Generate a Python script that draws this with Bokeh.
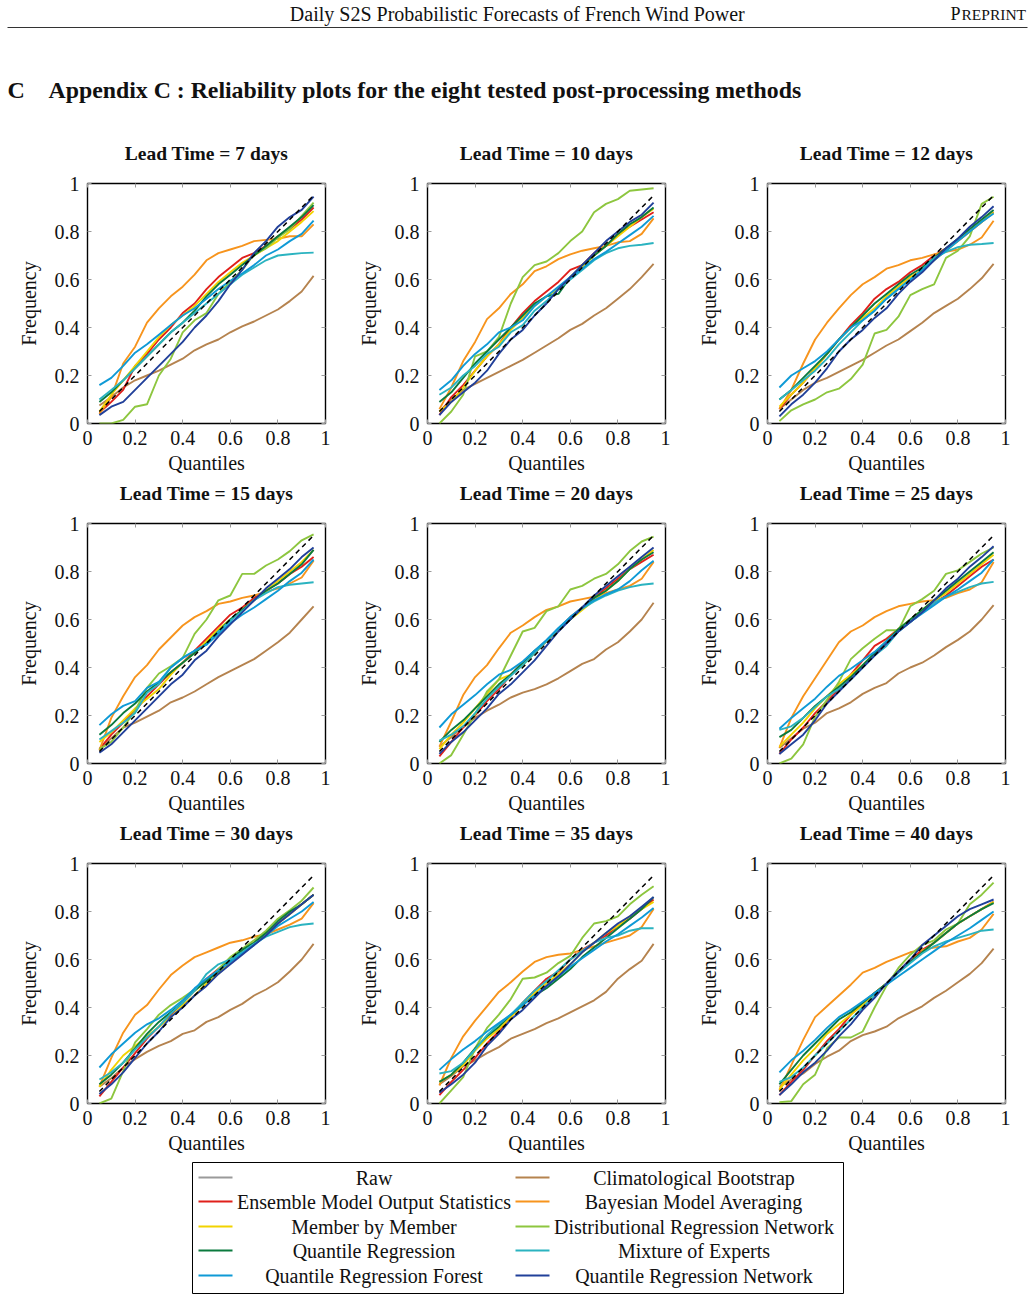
from bokeh.plotting import figure
from bokeh.layouts import column, row
from bokeh.models import (Range1d, LinearAxis, FixedTicker, ColumnDataSource, Label,
                          CustomLabelingPolicy)
from bokeh.embed import file_html
from bokeh.resources import INLINE

SERIF = "Liberation Serif"

QUANTILES = [0.05, 0.10, 0.15, 0.20, 0.25, 0.30, 0.35, 0.40, 0.45, 0.50,
             0.55, 0.60, 0.65, 0.70, 0.75, 0.80, 0.85, 0.90, 0.95]
LEAD_TIMES = [7, 10, 12, 15, 20, 25, 30, 35, 40]
TICKS = [0, 0.2, 0.4, 0.6, 0.8, 1]
TICK_LABELS = ["0", "0.2", "0.4", "0.6", "0.8", "1"]

# observed frequency below each forecast quantile, per method and lead time (days)
CB = {
    7: [0.075, 0.11, 0.15, 0.18, 0.20, 0.22, 0.245, 0.27, 0.305, 0.33, 0.35, 0.38, 0.405, 0.425, 0.45, 0.475, 0.51, 0.55, 0.615],
    10: [0.05, 0.10, 0.14, 0.165, 0.19, 0.215, 0.24, 0.265, 0.295, 0.325, 0.355, 0.39, 0.415, 0.45, 0.48, 0.52, 0.56, 0.61, 0.665],
    12: [0.06, 0.10, 0.14, 0.17, 0.19, 0.215, 0.24, 0.265, 0.295, 0.325, 0.35, 0.385, 0.42, 0.46, 0.49, 0.52, 0.56, 0.605, 0.665],
    15: [0.06, 0.105, 0.15, 0.17, 0.195, 0.22, 0.255, 0.275, 0.30, 0.33, 0.36, 0.385, 0.41, 0.435, 0.47, 0.505, 0.545, 0.60, 0.655],
    20: [0.07, 0.11, 0.155, 0.19, 0.22, 0.245, 0.275, 0.295, 0.31, 0.33, 0.355, 0.385, 0.415, 0.435, 0.475, 0.505, 0.55, 0.60, 0.67],
    25: [0.065, 0.105, 0.145, 0.17, 0.21, 0.23, 0.255, 0.29, 0.315, 0.335, 0.375, 0.40, 0.42, 0.45, 0.485, 0.515, 0.55, 0.60, 0.66],
    30: [0.07, 0.105, 0.15, 0.185, 0.215, 0.24, 0.26, 0.29, 0.305, 0.34, 0.36, 0.39, 0.415, 0.45, 0.475, 0.505, 0.55, 0.60, 0.665],
    35: [0.08, 0.115, 0.155, 0.18, 0.21, 0.235, 0.27, 0.29, 0.31, 0.335, 0.355, 0.38, 0.405, 0.43, 0.465, 0.52, 0.56, 0.595, 0.665],
    40: [0.07, 0.10, 0.125, 0.165, 0.195, 0.22, 0.26, 0.285, 0.30, 0.32, 0.355, 0.38, 0.405, 0.44, 0.47, 0.505, 0.54, 0.585, 0.645],
}
EMOS = {
    7: [0.045, 0.09, 0.14, 0.24, 0.29, 0.35, 0.40, 0.46, 0.50, 0.56, 0.61, 0.65, 0.69, 0.71, 0.74, 0.78, 0.81, 0.85, 0.90],
    10: [0.035, 0.11, 0.16, 0.22, 0.28, 0.33, 0.40, 0.46, 0.51, 0.55, 0.59, 0.64, 0.66, 0.71, 0.74, 0.79, 0.82, 0.85, 0.88],
    12: [0.06, 0.12, 0.17, 0.23, 0.29, 0.35, 0.41, 0.46, 0.52, 0.56, 0.59, 0.63, 0.66, 0.70, 0.73, 0.76, 0.80, 0.84, 0.88],
    15: [0.06, 0.12, 0.17, 0.22, 0.28, 0.33, 0.38, 0.42, 0.47, 0.52, 0.57, 0.62, 0.65, 0.69, 0.72, 0.75, 0.79, 0.82, 0.86],
    20: [0.03, 0.09, 0.15, 0.20, 0.26, 0.31, 0.37, 0.42, 0.46, 0.51, 0.56, 0.61, 0.65, 0.69, 0.73, 0.77, 0.81, 0.84, 0.87],
    25: [0.04, 0.10, 0.15, 0.21, 0.26, 0.31, 0.37, 0.43, 0.49, 0.52, 0.56, 0.59, 0.63, 0.67, 0.70, 0.74, 0.78, 0.82, 0.85],
    30: [0.03, 0.09, 0.15, 0.21, 0.27, 0.32, 0.37, 0.42, 0.47, 0.52, 0.56, 0.60, 0.64, 0.67, 0.71, 0.75, 0.79, 0.83, 0.87],
    35: [0.035, 0.09, 0.14, 0.19, 0.25, 0.30, 0.36, 0.42, 0.47, 0.52, 0.55, 0.60, 0.64, 0.67, 0.70, 0.74, 0.77, 0.81, 0.85],
    40: [0.035, 0.09, 0.14, 0.20, 0.26, 0.31, 0.37, 0.42, 0.46, 0.50, 0.55, 0.60, 0.64, 0.67, 0.71, 0.75, 0.78, 0.81, 0.84],
}
BMA = {
    7: [0.04, 0.11, 0.25, 0.32, 0.42, 0.48, 0.53, 0.57, 0.62, 0.68, 0.71, 0.725, 0.74, 0.76, 0.765, 0.77, 0.78, 0.78, 0.83],
    10: [0.06, 0.15, 0.26, 0.34, 0.435, 0.48, 0.54, 0.58, 0.635, 0.655, 0.685, 0.705, 0.72, 0.73, 0.74, 0.755, 0.76, 0.79, 0.855],
    12: [0.06, 0.14, 0.25, 0.35, 0.42, 0.48, 0.535, 0.58, 0.61, 0.645, 0.66, 0.68, 0.69, 0.705, 0.715, 0.725, 0.745, 0.775, 0.845],
    15: [0.055, 0.19, 0.28, 0.36, 0.41, 0.475, 0.525, 0.575, 0.61, 0.635, 0.665, 0.675, 0.69, 0.70, 0.715, 0.73, 0.75, 0.775, 0.845],
    20: [0.07, 0.175, 0.285, 0.36, 0.41, 0.48, 0.545, 0.575, 0.61, 0.64, 0.655, 0.675, 0.685, 0.695, 0.71, 0.725, 0.74, 0.77, 0.84],
    25: [0.065, 0.19, 0.28, 0.355, 0.43, 0.505, 0.55, 0.575, 0.61, 0.635, 0.655, 0.665, 0.675, 0.68, 0.69, 0.71, 0.725, 0.755, 0.84],
    30: [0.07, 0.19, 0.295, 0.37, 0.41, 0.475, 0.535, 0.575, 0.61, 0.63, 0.65, 0.67, 0.68, 0.695, 0.705, 0.725, 0.745, 0.77, 0.835],
    35: [0.075, 0.19, 0.28, 0.345, 0.405, 0.465, 0.505, 0.55, 0.59, 0.61, 0.62, 0.625, 0.64, 0.655, 0.67, 0.685, 0.70, 0.735, 0.81],
    40: [0.055, 0.16, 0.265, 0.36, 0.405, 0.45, 0.495, 0.545, 0.565, 0.59, 0.61, 0.63, 0.64, 0.65, 0.655, 0.675, 0.69, 0.725, 0.79],
}
MBM = {
    7: [0.05, 0.12, 0.18, 0.24, 0.30, 0.36, 0.41, 0.45, 0.49, 0.54, 0.59, 0.63, 0.67, 0.70, 0.73, 0.76, 0.80, 0.84, 0.885],
    10: [0.05, 0.09, 0.15, 0.22, 0.28, 0.33, 0.39, 0.44, 0.49, 0.53, 0.56, 0.61, 0.65, 0.70, 0.74, 0.78, 0.82, 0.86, 0.895],
    12: [0.07, 0.12, 0.17, 0.23, 0.29, 0.35, 0.40, 0.44, 0.48, 0.53, 0.57, 0.61, 0.64, 0.68, 0.72, 0.76, 0.80, 0.84, 0.88],
    15: [0.09, 0.13, 0.18, 0.23, 0.27, 0.31, 0.37, 0.42, 0.46, 0.51, 0.56, 0.60, 0.64, 0.68, 0.72, 0.76, 0.80, 0.84, 0.89],
    20: [0.06, 0.12, 0.17, 0.23, 0.29, 0.35, 0.37, 0.41, 0.46, 0.51, 0.56, 0.60, 0.64, 0.68, 0.72, 0.76, 0.81, 0.85, 0.89],
    25: [0.07, 0.12, 0.17, 0.23, 0.28, 0.33, 0.37, 0.41, 0.46, 0.51, 0.56, 0.60, 0.64, 0.68, 0.71, 0.75, 0.79, 0.83, 0.87],
    30: [0.07, 0.14, 0.20, 0.24, 0.28, 0.32, 0.36, 0.41, 0.45, 0.50, 0.54, 0.59, 0.63, 0.67, 0.71, 0.75, 0.79, 0.83, 0.87],
    35: [0.09, 0.12, 0.16, 0.22, 0.27, 0.31, 0.36, 0.41, 0.46, 0.50, 0.54, 0.58, 0.63, 0.67, 0.71, 0.74, 0.78, 0.81, 0.84],
    40: [0.06, 0.12, 0.18, 0.23, 0.29, 0.33, 0.37, 0.41, 0.46, 0.50, 0.55, 0.59, 0.63, 0.67, 0.71, 0.75, 0.78, 0.81, 0.84],
}
DRN = {
    7: [0.0, 0.0, 0.015, 0.07, 0.08, 0.20, 0.27, 0.38, 0.43, 0.46, 0.54, 0.59, 0.64, 0.705, 0.73, 0.775, 0.81, 0.865, 0.92],
    10: [0.0, 0.05, 0.12, 0.28, 0.30, 0.36, 0.50, 0.61, 0.66, 0.675, 0.71, 0.76, 0.80, 0.88, 0.915, 0.935, 0.97, 0.975, 0.98],
    12: [0.01, 0.055, 0.08, 0.10, 0.13, 0.145, 0.185, 0.245, 0.375, 0.39, 0.445, 0.535, 0.56, 0.58, 0.69, 0.72, 0.78, 0.915, 0.945],
    15: [0.06, 0.09, 0.15, 0.22, 0.315, 0.375, 0.405, 0.44, 0.54, 0.60, 0.68, 0.70, 0.79, 0.79, 0.825, 0.85, 0.885, 0.93, 0.955],
    20: [0.0, 0.035, 0.12, 0.205, 0.30, 0.35, 0.45, 0.55, 0.565, 0.635, 0.655, 0.725, 0.74, 0.77, 0.79, 0.83, 0.885, 0.925, 0.945],
    25: [0.0, 0.02, 0.08, 0.195, 0.265, 0.34, 0.435, 0.48, 0.52, 0.555, 0.555, 0.655, 0.685, 0.72, 0.79, 0.805, 0.84, 0.875, 0.90],
    30: [0.0, 0.02, 0.135, 0.255, 0.31, 0.37, 0.41, 0.44, 0.475, 0.51, 0.56, 0.61, 0.645, 0.68, 0.72, 0.77, 0.805, 0.845, 0.90],
    35: [0.0, 0.055, 0.11, 0.23, 0.315, 0.37, 0.435, 0.52, 0.525, 0.545, 0.585, 0.615, 0.69, 0.75, 0.76, 0.78, 0.83, 0.87, 0.905],
    40: [0.005, 0.01, 0.08, 0.12, 0.23, 0.275, 0.275, 0.30, 0.40, 0.49, 0.565, 0.62, 0.66, 0.68, 0.725, 0.75, 0.83, 0.87, 0.92],
}
QR = {
    7: [0.09, 0.13, 0.18, 0.23, 0.28, 0.33, 0.38, 0.42, 0.47, 0.53, 0.58, 0.62, 0.66, 0.70, 0.74, 0.78, 0.82, 0.86, 0.91],
    10: [0.09, 0.13, 0.19, 0.25, 0.30, 0.35, 0.40, 0.45, 0.50, 0.53, 0.54, 0.61, 0.66, 0.70, 0.74, 0.79, 0.83, 0.86, 0.90],
    12: [0.10, 0.14, 0.19, 0.24, 0.29, 0.35, 0.40, 0.45, 0.50, 0.54, 0.58, 0.62, 0.65, 0.69, 0.73, 0.77, 0.81, 0.85, 0.89],
    15: [0.12, 0.16, 0.21, 0.25, 0.30, 0.34, 0.38, 0.42, 0.46, 0.50, 0.55, 0.60, 0.64, 0.68, 0.72, 0.75, 0.79, 0.83, 0.89],
    20: [0.09, 0.14, 0.18, 0.23, 0.28, 0.33, 0.37, 0.42, 0.47, 0.51, 0.56, 0.60, 0.65, 0.69, 0.72, 0.76, 0.81, 0.85, 0.88],
    25: [0.11, 0.14, 0.19, 0.24, 0.28, 0.32, 0.36, 0.41, 0.46, 0.51, 0.56, 0.60, 0.64, 0.68, 0.72, 0.76, 0.80, 0.84, 0.88],
    30: [0.08, 0.12, 0.17, 0.23, 0.29, 0.34, 0.38, 0.42, 0.47, 0.51, 0.55, 0.60, 0.64, 0.67, 0.71, 0.76, 0.80, 0.83, 0.87],
    35: [0.09, 0.12, 0.17, 0.23, 0.28, 0.32, 0.37, 0.41, 0.45, 0.48, 0.52, 0.56, 0.61, 0.65, 0.69, 0.73, 0.77, 0.81, 0.86],
    40: [0.08, 0.14, 0.20, 0.25, 0.30, 0.35, 0.38, 0.42, 0.46, 0.50, 0.55, 0.59, 0.63, 0.67, 0.71, 0.75, 0.78, 0.81, 0.835],
}
MOE = {
    7: [0.10, 0.14, 0.18, 0.23, 0.28, 0.33, 0.38, 0.42, 0.46, 0.50, 0.54, 0.58, 0.62, 0.65, 0.68, 0.70, 0.705, 0.71, 0.712],
    10: [0.12, 0.15, 0.20, 0.24, 0.29, 0.32, 0.38, 0.41, 0.47, 0.51, 0.56, 0.60, 0.64, 0.68, 0.71, 0.73, 0.74, 0.745, 0.752],
    12: [0.10, 0.14, 0.18, 0.22, 0.27, 0.33, 0.38, 0.43, 0.47, 0.52, 0.56, 0.60, 0.64, 0.69, 0.715, 0.735, 0.745, 0.748, 0.752],
    15: [0.10, 0.135, 0.17, 0.21, 0.295, 0.33, 0.40, 0.44, 0.47, 0.495, 0.55, 0.595, 0.635, 0.68, 0.71, 0.735, 0.745, 0.75, 0.755],
    20: [0.095, 0.12, 0.155, 0.21, 0.27, 0.32, 0.365, 0.41, 0.46, 0.51, 0.56, 0.61, 0.645, 0.675, 0.70, 0.72, 0.735, 0.745, 0.75],
    25: [0.14, 0.155, 0.19, 0.235, 0.28, 0.31, 0.35, 0.40, 0.45, 0.49, 0.55, 0.59, 0.63, 0.67, 0.695, 0.715, 0.735, 0.75, 0.757],
    30: [0.10, 0.13, 0.17, 0.225, 0.275, 0.32, 0.375, 0.42, 0.47, 0.54, 0.58, 0.60, 0.63, 0.665, 0.695, 0.715, 0.735, 0.745, 0.75],
    35: [0.125, 0.135, 0.17, 0.225, 0.285, 0.33, 0.37, 0.42, 0.47, 0.51, 0.555, 0.60, 0.635, 0.67, 0.69, 0.70, 0.72, 0.73, 0.73],
    40: [0.09, 0.11, 0.15, 0.20, 0.25, 0.30, 0.35, 0.40, 0.45, 0.50, 0.545, 0.585, 0.625, 0.655, 0.675, 0.69, 0.705, 0.72, 0.725],
}
QRF = {
    7: [0.16, 0.19, 0.24, 0.295, 0.33, 0.37, 0.41, 0.45, 0.48, 0.52, 0.56, 0.595, 0.625, 0.66, 0.70, 0.725, 0.76, 0.79, 0.845],
    10: [0.14, 0.18, 0.24, 0.29, 0.33, 0.38, 0.40, 0.43, 0.49, 0.53, 0.57, 0.61, 0.645, 0.685, 0.715, 0.75, 0.785, 0.82, 0.865],
    12: [0.15, 0.20, 0.23, 0.26, 0.30, 0.35, 0.40, 0.43, 0.47, 0.52, 0.56, 0.60, 0.64, 0.68, 0.72, 0.76, 0.80, 0.84, 0.875],
    15: [0.16, 0.205, 0.24, 0.26, 0.315, 0.34, 0.40, 0.44, 0.47, 0.495, 0.54, 0.585, 0.62, 0.65, 0.685, 0.72, 0.76, 0.795, 0.85],
    20: [0.15, 0.205, 0.245, 0.285, 0.33, 0.37, 0.39, 0.425, 0.47, 0.515, 0.565, 0.61, 0.65, 0.68, 0.705, 0.725, 0.76, 0.805, 0.845],
    25: [0.145, 0.19, 0.23, 0.27, 0.32, 0.365, 0.395, 0.43, 0.465, 0.51, 0.55, 0.59, 0.625, 0.66, 0.695, 0.725, 0.76, 0.795, 0.85],
    30: [0.15, 0.205, 0.25, 0.295, 0.33, 0.355, 0.39, 0.43, 0.48, 0.52, 0.555, 0.59, 0.625, 0.66, 0.70, 0.74, 0.77, 0.80, 0.84],
    35: [0.14, 0.185, 0.225, 0.26, 0.30, 0.335, 0.37, 0.41, 0.45, 0.49, 0.53, 0.57, 0.605, 0.64, 0.675, 0.705, 0.74, 0.775, 0.815],
    40: [0.13, 0.18, 0.22, 0.265, 0.315, 0.36, 0.39, 0.425, 0.46, 0.495, 0.53, 0.565, 0.60, 0.635, 0.67, 0.70, 0.73, 0.765, 0.80],
}
QRN = {
    7: [0.035, 0.07, 0.09, 0.14, 0.19, 0.24, 0.29, 0.34, 0.40, 0.45, 0.51, 0.58, 0.64, 0.71, 0.76, 0.82, 0.86, 0.89, 0.945],
    10: [0.035, 0.09, 0.13, 0.17, 0.22, 0.29, 0.35, 0.39, 0.45, 0.50, 0.56, 0.61, 0.66, 0.71, 0.76, 0.80, 0.84, 0.87, 0.92],
    12: [0.03, 0.08, 0.12, 0.17, 0.23, 0.30, 0.35, 0.39, 0.44, 0.48, 0.54, 0.59, 0.63, 0.68, 0.73, 0.77, 0.82, 0.86, 0.905],
    15: [0.045, 0.08, 0.13, 0.18, 0.23, 0.28, 0.33, 0.37, 0.43, 0.47, 0.53, 0.58, 0.63, 0.68, 0.73, 0.77, 0.81, 0.86, 0.90],
    20: [0.04, 0.09, 0.13, 0.18, 0.23, 0.29, 0.33, 0.38, 0.43, 0.49, 0.55, 0.60, 0.65, 0.70, 0.74, 0.78, 0.82, 0.86, 0.90],
    25: [0.04, 0.08, 0.12, 0.18, 0.25, 0.30, 0.35, 0.40, 0.45, 0.50, 0.55, 0.59, 0.63, 0.68, 0.73, 0.77, 0.82, 0.86, 0.905],
    30: [0.04, 0.08, 0.13, 0.19, 0.25, 0.30, 0.36, 0.40, 0.45, 0.49, 0.54, 0.58, 0.62, 0.66, 0.70, 0.75, 0.79, 0.83, 0.87],
    35: [0.045, 0.08, 0.12, 0.17, 0.24, 0.29, 0.35, 0.39, 0.44, 0.49, 0.53, 0.58, 0.63, 0.67, 0.71, 0.75, 0.78, 0.82, 0.86],
    40: [0.035, 0.08, 0.13, 0.17, 0.22, 0.28, 0.33, 0.39, 0.44, 0.50, 0.55, 0.60, 0.66, 0.70, 0.74, 0.78, 0.81, 0.83, 0.85],
}

METHOD_NAMES = ["Raw", "Climatological Bootstrap", "Ensemble Model Output Statistics",
                "Bayesian Model Averaging", "Member by Member",
                "Distributional Regression Network", "Quantile Regression",
                "Mixture of Experts", "Quantile Regression Forest",
                "Quantile Regression Network"]
METHOD_COLORS = ["#9a9a9a", "#b5834f", "#e0201b", "#f7941d", "#f2d300",
                 "#8dc63f", "#0b7a3e", "#2bb3c0", "#0f9ad6", "#21409a"]
# raw ensemble is listed in the key only
METHOD_DATA = [None, CB, EMOS, BMA, MBM, DRN, QR, MOE, QRF, QRN]

# labeling policy that keeps no tick label (mirror axes carry ticks only)
NO_LABELS = "for (let i = 0; i < indices.size; i++) { indices.unset(i) }\nreturn indices"

PANEL_W = 340
FRAME_LEFT = 87
FRAME_W = 238
STRIP_H = 28
PANEL_TOP = 15


def blank(w, h):
    p = figure(width=w, height=h, x_range=Range1d(0, w), y_range=Range1d(h, 0),
               output_backend="svg", toolbar_location=None, x_axis_type=None,
               y_axis_type=None, min_border=0)
    p.outline_line_color = None
    p.grid.visible = False
    return p


def label(p, x, y, text, size, align="left", bold=False):
    p.add_layout(Label(x=x, y=y, text=text, text_font=SERIF, text_font_size=size,
                       text_align=align, text_baseline="middle", text_color="#111111",
                       text_font_style="bold" if bold else "normal"))


def style_axis(ax, show_labels):
    ax.ticker = FixedTicker(ticks=TICKS)
    ax.major_label_overrides = dict(zip(TICKS, TICK_LABELS))
    ax.axis_line_color = None
    ax.major_tick_in = 4
    ax.major_tick_out = 0
    ax.major_tick_line_color = "#9a9a9a"
    ax.minor_tick_line_color = None
    ax.major_label_text_font = SERIF
    ax.axis_label_text_font = SERIF
    ax.axis_label_text_font_style = "normal"
    ax.axis_label_text_color = "#111111"
    ax.major_label_text_color = "#111111"
    if show_labels:
        ax.major_label_text_font_size = "20px"
        ax.axis_label_text_font_size = "20px"
    else:
        ax.major_label_policy = CustomLabelingPolicy(code=NO_LABELS)
        ax.major_label_text_font_size = "0px"
        ax.major_label_standoff = 0


def panel(lt):
    p = figure(width=PANEL_W, height=340 - STRIP_H, x_range=Range1d(0, 1),
               y_range=Range1d(0, 1), output_backend="svg", toolbar_location=None,
               min_border_left=FRAME_LEFT, min_border_right=PANEL_W - FRAME_LEFT - FRAME_W,
               min_border_top=PANEL_TOP, min_border_bottom=57,
               x_axis_label="Quantiles", y_axis_label="Frequency")
    p.grid.visible = False
    p.outline_line_color = "black"
    p.outline_line_width = 1.4
    p.add_layout(LinearAxis(), "above")
    p.add_layout(LinearAxis(), "right")
    for ax in p.xaxis:
        style_axis(ax, ax in p.below)
    for ax in p.yaxis:
        style_axis(ax, ax in p.left)
    p.below[0].major_label_standoff = 7
    p.below[0].axis_label_standoff = 4
    p.left[0].major_label_standoff = 8
    p.left[0].axis_label_standoff = 12

    for data, color in zip(METHOD_DATA, METHOD_COLORS):
        if data is None:
            continue
        src = ColumnDataSource(dict(q=QUANTILES, f=data[lt]))
        p.line("q", "f", source=src, line_color=color, line_width=1.9)
    diag = ColumnDataSource(dict(q=QUANTILES, f=QUANTILES))
    p.line("q", "f", source=diag, line_color="black", line_width=1.5, line_dash="5 4")
    return p


def heading_strip(lead_times):
    s = blank(3 * PANEL_W, STRIP_H)
    for i, lt in enumerate(lead_times):
        cx = i * PANEL_W + FRAME_LEFT + FRAME_W / 2
        label(s, cx, 13, f"Lead Time = {lt} days", "19.5px", "center", bold=True)
    return s


# page header and section heading
header = blank(1034, 140)
label(header, 517, 13, "Daily S2S Probabilistic Forecasts of French Wind Power", "20px", "center")
label(header, 950, 13, "P", "18px")
label(header, 961, 14, "REPRINT", "15.5px")
header.segment(x0=[7], y0=[27], x1=[1027], y1=[27], line_color="#333333", line_width=1)
label(header, 7, 89, "C", "24px", bold=True)
label(header, 48, 89, "Appendix C : Reliability plots for the eight tested post-processing methods",
      "23.8px", bold=True)

blocks = []
for r in range(3):
    lts = LEAD_TIMES[3 * r:3 * r + 3]
    blocks.append(heading_strip(lts))
    blocks.append(row(*[panel(lt) for lt in lts]))

# key, two columns of five entries
key = blank(1034, 141)
key.quad(left=[192], right=[843], top=[2], bottom=[133], fill_color=None,
         line_color="black", line_width=1)
row_y = [17, 41, 66, 90, 115]
for i, (name, color) in enumerate(zip(METHOD_NAMES, METHOD_COLORS)):
    r, c = divmod(i, 2)
    y = row_y[r]
    x0 = 198 if c == 0 else 515
    key.line([x0, x0 + 34], [y, y], line_color=color, line_width=2)
    label(key, 373.5 if c == 0 else 693.5, y, name, "20px", "center")

page = column(header, *blocks, key)
open("out.html", "w").write(file_html(page, INLINE))
